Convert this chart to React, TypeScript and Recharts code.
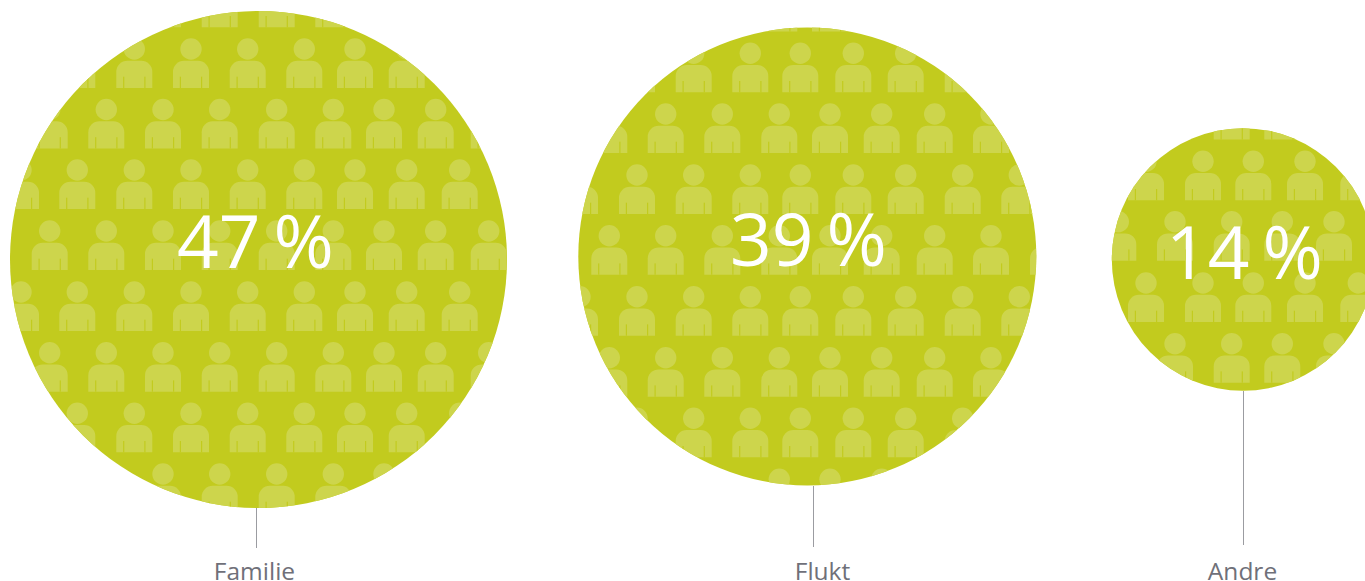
import React from 'react';
import { ScatterChart, Scatter, XAxis, YAxis, ZAxis, ReferenceLine } from 'recharts';

const categories = ['Familie', 'Flukt', 'Andre'];
const percents = [47, 39, 14];

// bubble centres and areas, read in picture units
const bubbleX = [258.5, 807.3, 1243];
const bubbleY = [259.5, 256.5, 259.5];
const bubbleArea = [194000, 164750, 54076];

const percentX = [255.5, 808.5, 1244.5];
const percentY = [268, 266, 279];
const labelX = [254.5, 822.5, 1242.5];
const labelY = [580, 580, 580];

const stemX = [256.5, 813.5, 1243.5];
const stemTop = [508, 486, 391];
const stemBottom = [548, 547, 545];

// person heads per row in each bubble
const familieRows: [number, number[]][] = [
  [-11.7, [163, 219.7, 276.7, 333.3]],
  [49, [77.3, 134.3, 191, 247.7, 304.3, 355, 406.7]],
  [109.5, [49.7, 106.3, 163, 219.7, 276.7, 333.3, 384, 435.7, 488.7]],
  [170, [21, 77.3, 134.3, 191, 247.7, 304.3, 355, 406.7, 459.7]],
  [231, [49.7, 106.3, 163, 219.7, 276.7, 333.3, 384, 435.7, 488.7]],
  [292, [21, 77.3, 134.3, 191, 247.7, 304.3, 355, 406.7, 459.7]],
  [352.7, [49.7, 106.3, 163, 219.7, 276.7, 333.3, 384, 435.7, 488.7]],
  [413.3, [77.3, 134.3, 191, 247.7, 304.3, 355, 406.7, 459.7]],
  [474, [163, 219.7, 276.7, 333.3, 384]],
];
const fluktRows: [number, number[]][] = [
  [-7.4, [779.3, 830]],
  [53.3, [637, 693.7, 750.3, 800.3, 853.3, 905.7, 962.7]],
  [114, [609.3, 665.7, 722.3, 779.3, 830, 881.7, 934.7, 991]],
  [175, [580, 637, 693.7, 750.3, 800.3, 853.3, 905.7, 962.7, 1019.3]],
  [235.7, [609.3, 665.7, 722.3, 779.3, 830, 881.7, 934.7, 991, 1048]],
  [296.7, [580, 637, 693.7, 750.3, 800.3, 853.3, 905.7, 962.7, 1019.3]],
  [357.7, [609.3, 665.7, 722.3, 779.3, 830, 881.7, 934.7, 991]],
  [418.3, [637, 693.7, 750.3, 800.3, 853.3, 905.7, 962.7]],
  [479.3, [779.3, 830, 881.7]],
];
const andreRows: [number, number[]][] = [
  [100.6, [1231.7, 1282.3]],
  [161.3, [1146, 1203, 1253.3, 1305, 1358.3]],
  [221.7, [1118.3, 1175, 1231.7, 1282.3, 1334]],
  [283, [1146, 1203, 1253.3, 1305, 1358.3]],
  [343.7, [1175, 1231.7, 1282.3, 1334]],
];

const GREEN = '#c2cb1e';
const PERSON = '#cdd54c';
const GREY = '#6f7079';
const FONT = '"Open Sans", "Noto Sans", sans-serif';

const bubbles = categories.map((name, i) => ({
  name,
  x: bubbleX[i],
  y: bubbleY[i],
  area: bubbleArea[i],
}));
const percentData = percents.map((v, i) => ({ x: percentX[i], y: percentY[i], text: `${v} %` }));
const labelData = categories.map((name, i) => ({ x: labelX[i], y: labelY[i], text: name }));
const peopleData = [familieRows, fluktRows, andreRows].map((rows) =>
  rows.flatMap(([y, xs]) => xs.map((x) => ({ x, y })))
);

const Bubble = (props: any) => {
  const r = props.width / 2;
  const id = `clip-${props.payload.name}`;
  return (
    <g>
      <clipPath id={id}>
        <circle cx={props.cx} cy={props.cy} r={r} />
      </clipPath>
      <circle cx={props.cx} cy={props.cy} r={r} fill={GREEN} />
    </g>
  );
};

// cx, cy is the middle of the head
const Person = (clip: string) => (props: any) => {
  const { cx, cy } = props;
  return (
    <g clipPath={`url(#${clip})`}>
      <circle cx={cx} cy={cy} r={10.7} fill={PERSON} />
      <path
        d={`M${cx - 18} ${cy + 39} V${cy + 22.7} A11 11 0 0 1 ${cx - 7} ${cy + 11.7} H${cx + 7} A11 11 0 0 1 ${cx + 18} ${cy + 22.7} V${cy + 39} Z`}
        fill={PERSON}
      />
      <rect x={cx - 11.2} y={cy + 27.7} width={1.2} height={11.3} fill={GREEN} />
      <rect x={cx + 10} y={cy + 27.7} width={1.2} height={11.3} fill={GREEN} />
    </g>
  );
};

const PercentText = (props: any) => (
  <text
    x={props.cx}
    y={props.cy}
    textAnchor="middle"
    fill="#ffffff"
    fontSize={73}
    fontFamily={FONT}
    style={{ wordSpacing: -6 }}
  >
    {props.payload.text}
  </text>
);

const LabelText = (props: any) => (
  <text x={props.cx} y={props.cy} textAnchor="middle" fill={GREY} fontSize={24.5} fontFamily={FONT}>
    {props.payload.text}
  </text>
);

export default function App() {
  return (
    <div style={{ position: 'absolute', left: 0, top: 0, width: 1365, height: 581, overflow: 'hidden', background: '#fff' }}>
      <ScatterChart width={1365} height={581} margin={{ top: 0, right: 0, bottom: 0, left: 0 }}>
        <XAxis type="number" dataKey="x" domain={[0, 1365]} allowDataOverflow hide />
        <YAxis type="number" dataKey="y" domain={[0, 581]} allowDataOverflow reversed hide />
        <ZAxis type="number" dataKey="area" domain={[0, 194000]} range={[0, 194000]} />
        {stemX.map((x, i) => (
          <ReferenceLine
            key={x}
            segment={[{ x, y: stemTop[i] }, { x, y: stemBottom[i] }]}
            stroke="#9b9ca1"
            strokeWidth={1}
          />
        ))}
        <Scatter data={bubbles} shape={Bubble} isAnimationActive={false} />
        {peopleData.map((people, i) => (
          <Scatter key={categories[i]} data={people} shape={Person(`clip-${categories[i]}`)} isAnimationActive={false} />
        ))}
        <Scatter data={percentData} shape={PercentText} isAnimationActive={false} />
        <Scatter data={labelData} shape={LabelText} isAnimationActive={false} />
      </ScatterChart>
    </div>
  );
}
